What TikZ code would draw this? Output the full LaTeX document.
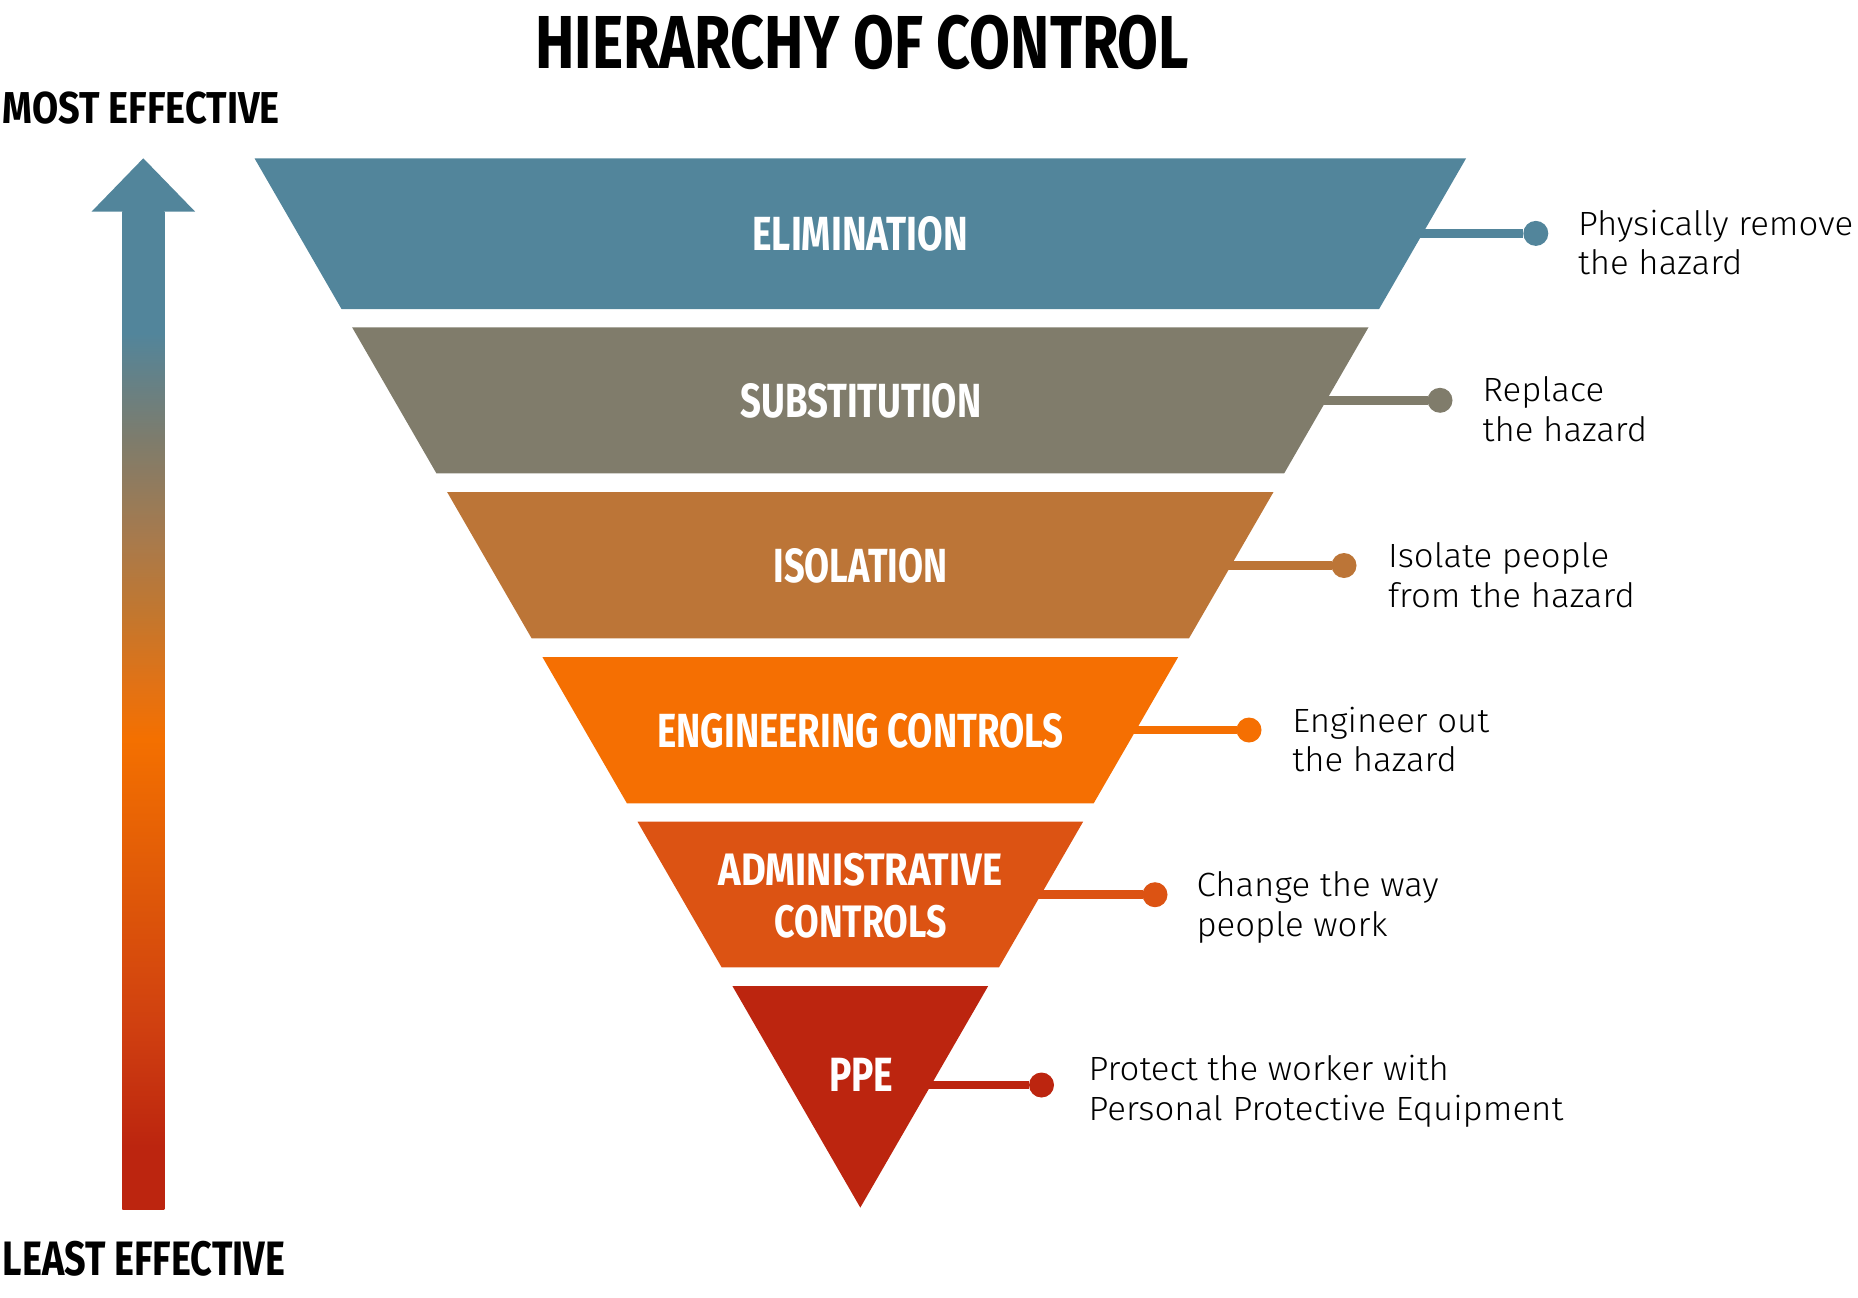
\documentclass[tikz,border=0pt]{standalone}
\usepackage{fontspec}
\setmainfont{Fira Sans}
\newfontfamily\descfont[FakeStretch=1.035]{Fira Sans Light}
\usepackage{graphicx}
\definecolor{cElim}{HTML}{52859B}
\definecolor{cSubs}{HTML}{807C6B}
\definecolor{cIsol}{HTML}{BC7537}
\definecolor{cEng}{HTML}{F56F02}
\definecolor{cAdm}{HTML}{DC5313}
\definecolor{cPPE}{HTML}{BC250F}
\definecolor{gA}{HTML}{D04010}
\definecolor{gB}{HTML}{E05A08}
\definecolor{gC}{HTML}{F47000}
\definecolor{gD}{HTML}{E27215}
\definecolor{gE}{HTML}{C2772F}
\definecolor{gF}{HTML}{A87A4C}
\definecolor{gG}{HTML}{7E7C6C}
\pgfdeclareverticalshading{effshade}{100bp}{color(0bp)=(cPPE); color(28.11bp)=(cPPE); color(34.22bp)=(gA); color(41.48bp)=(gB); color(48.55bp)=(gC); color(51.2bp)=(gD); color(54.86bp)=(gE); color(58.52bp)=(gF); color(63.53bp)=(gG); color(68.89bp)=(cElim); color(100bp)=(cElim)}
\newcommand{\capsfit}[3]{\resizebox{#1pt}{#2pt}{\bfseries #3}}
\begin{document}
\begin{tikzpicture}[x=1pt,y=-1pt,
  caps/.style={inner sep=0pt, outer sep=0pt, anchor=base, text=white},
  headline/.style={inner sep=0pt, outer sep=0pt, text=black},
  desc/.style={inner sep=0pt, outer sep=0pt, anchor=base west, text=black,
    font=\descfont\fontsize{33.6}{40}\selectfont},
  conn/.style={line width=8.5pt},
  dotmark/.style={circle, minimum size=25pt, inner sep=0pt, outer sep=0pt}]
\useasboundingbox (0,0) rectangle (1858,1298);

% title and side labels
\node[headline, anchor=base] (title) at (862.2,68.3) {\capsfit{653.6}{53.3}{HIERARCHY OF CONTROL}};
\node[headline, anchor=base west] (most) at (2.7,123.3) {\capsfit{277}{31.7}{MOST EFFECTIVE}};
\node[headline, anchor=base west] (least) at (2.7,1275) {\capsfit{282.3}{34.3}{LEAST EFFECTIVE}};

% effectiveness arrow
\shade[shading=effshade] (122.3,211) rectangle (164.3,1209);
\fill[cElim] (91.7,211.5) -- (143.3,158.3) -- (195,211.5) -- cycle;

% bands
\fill[cElim] (254.5,158.3) -- (1466.1,158.3) -- (1379.1,309) -- (341.5,309) -- cycle;
\fill[cSubs] (352.1,327.3) -- (1368.5,327.3) -- (1284.2,473.3) -- (436.4,473.3) -- cycle;
\fill[cIsol] (447.1,492) -- (1273.5,492) -- (1189.0,638.3) -- (531.6,638.3) -- cycle;
\fill[cEng] (542.4,657) -- (1178.2,657) -- (1093.7,803.3) -- (626.9,803.3) -- cycle;
\fill[cAdm] (637.5,821.7) -- (1083.1,821.7) -- (999.0,967.3) -- (721.6,967.3) -- cycle;
\fill[cPPE] (732.4,986) -- (988.2,986) -- (860.3,1207.6) -- cycle;

% band labels
\node[caps] (lElim) at (860.2,250.7) {\capsfit{215.6}{34}{ELIMINATION}};
\node[caps] (lSubs) at (861,417.3) {\capsfit{240.6}{34}{SUBSTITUTION}};
\node[caps] (lIsol) at (860.5,582) {\capsfit{174}{34}{ISOLATION}};
\node[caps] (lEng) at (860.5,747) {\capsfit{406.5}{34}{ENGINEERING CONTROLS}};
\node[caps] (lAdmA) at (860.5,885) {\capsfit{284}{32.3}{ADMINISTRATIVE}};
\node[caps] (lAdmB) at (860.7,937.3) {\capsfit{172}{32.3}{CONTROLS}};
\node[caps] (lPPE) at (861.3,1091) {\capsfit{64.3}{33.3}{PPE}};

% connectors
\coordinate (s1) at (1418,233.4);
\coordinate (s2) at (1322,400.3);
\coordinate (s3) at (1227,565.5);
\coordinate (s4) at (1132,730);
\coordinate (s5) at (1037,894.7);
\coordinate (s6) at (927,1085);
\node[dotmark, fill=cElim] (d1) at (1535.8,233.4) {};
\node[dotmark, fill=cSubs] (d2) at (1440,400.3) {};
\node[dotmark, fill=cIsol] (d3) at (1344,565.5) {};
\node[dotmark, fill=cEng] (d4) at (1249,730) {};
\node[dotmark, fill=cAdm] (d5) at (1155,894.7) {};
\node[dotmark, fill=cPPE] (d6) at (1041.5,1085) {};
\draw[conn, cElim] (s1) -- (d1);
\draw[conn, cSubs] (s2) -- (d2);
\draw[conn, cIsol] (s3) -- (d3);
\draw[conn, cEng] (s4) -- (d4);
\draw[conn, cAdm] (s5) -- (d5);
\draw[conn, cPPE] (s6) -- (d6);

% descriptions
\node[desc] (t1a) at (1578,235) {Physically remove};
\node[desc] (t1b) at (1578,274.3) {the hazard};
\node[desc] (t2a) at (1482.7,401.7) {Replace};
\node[desc] (t2b) at (1482.7,441.7) {the hazard};
\node[desc] (t3a) at (1388,567.7) {Isolate people};
\node[desc] (t3b) at (1388,607.3) {from the hazard};
\node[desc] (t4a) at (1292.4,732) {Engineer out};
\node[desc] (t4b) at (1292.4,771.7) {the hazard};
\node[desc] (t5a) at (1196.5,896.7) {Change the way};
\node[desc] (t5b) at (1196.5,936) {people work};
\node[desc] (t6a) at (1088.6,1080.7) {Protect the worker with};
\node[desc] (t6b) at (1088.6,1120) {Personal Protective Equipment};
\end{tikzpicture}
\end{document}
